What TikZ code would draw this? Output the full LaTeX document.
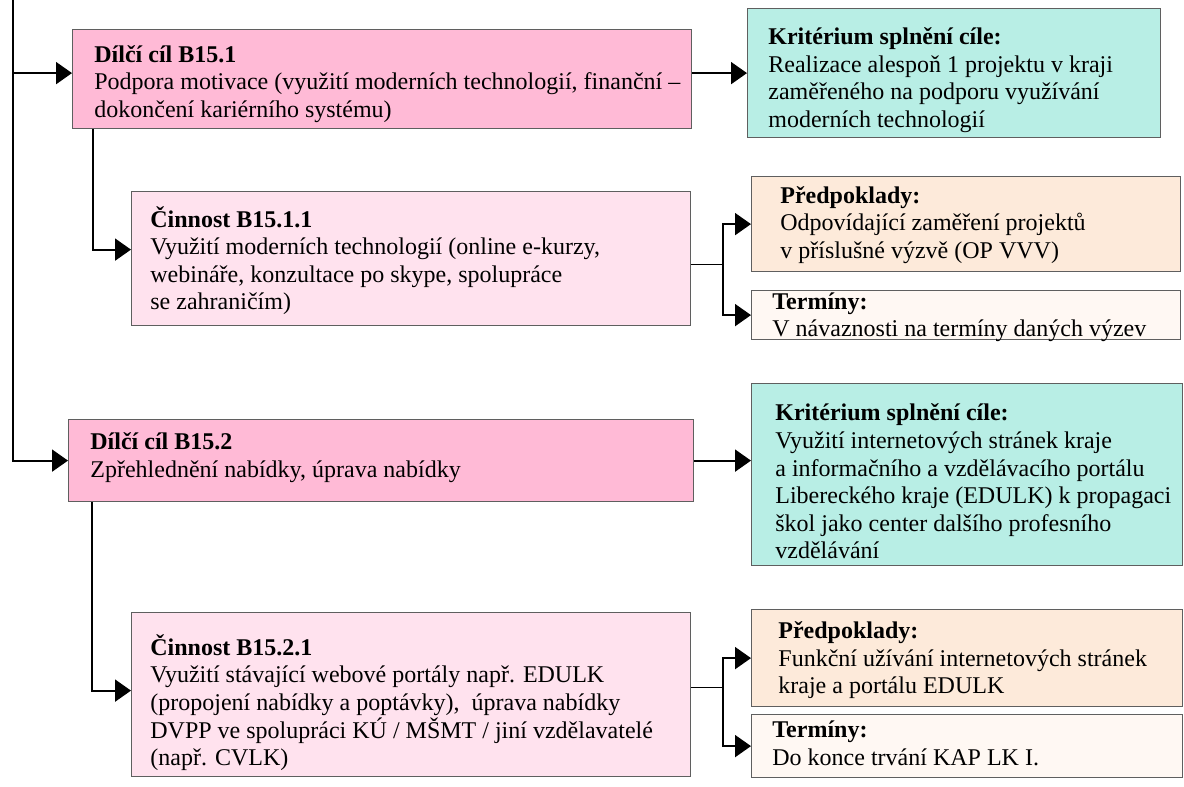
\documentclass[tikz,border=0pt]{standalone}
\usepackage{fontspec}
\setmainfont{Liberation Serif}
\usetikzlibrary{arrows.meta, positioning, calc}
\definecolor{goalc}{RGB}{255,186,214}
\definecolor{actc}{RGB}{255,226,238}
\definecolor{critc}{RGB}{184,238,229}
\definecolor{prec}{RGB}{253,234,218}
\definecolor{termc}{RGB}{255,248,243}
\definecolor{edgec}{RGB}{95,95,95}

\begin{document}
\begin{tikzpicture}[x=0.5pt, y=-0.5pt,
    box/.style={draw=edgec, line width=0.6pt, anchor=north west, inner sep=0pt},
    txt/.style={align=left, inner sep=0pt, font=\fontsize{12}{13.8}\selectfont},
    arr/.style={-{Triangle[length=8pt, width=11pt]}, line width=1pt}]
  \useasboundingbox (0,0) rectangle (1184,787);
  % goal B15.1
  \node[box, fill=goalc, minimum width=309.5pt, minimum height=49.5pt] (goal1) at (72,29) {};
  \node[txt, right=11pt of goal1.west, yshift=-2.5pt] (goal1t)
    {\textbf{Dílčí cíl B15.1}\\ Podpora motivace (využití moderních technologií, finanční –\\ dokončení kariérního systému)};
  \node[box, fill=critc, minimum width=206.5pt, minimum height=64.5pt] (crit1) at (747,8) {};
  \node[txt, right=10.5pt of crit1.west, yshift=-3.5pt] (crit1t)
    {\textbf{Kritérium splnění cíle:}\\ Realizace alespoň 1 projektu v kraji\\ zaměřeného na podporu využívání\\ moderních technologií};
  \node[box, fill=actc, minimum width=279.5pt, minimum height=67pt] (act1) at (131,191) {};
  \node[txt, right=9.5pt of act1.west, yshift=-1pt] (act1t)
    {\textbf{Činnost B15.1.1}\\ Využití moderních technologií (online e-kurzy,\\ webináře, konzultace po skype, spolupráce\\ se zahraničím)};
  \node[box, fill=prec, minimum width=214.5pt, minimum height=47.5pt] (pre1) at (751,176) {};
  \node[txt, right=14.5pt of pre1.west, yshift=-0.5pt] (pre1t)
    {\textbf{Předpoklady:}\\ Odpovídající zaměření projektů\\ v příslušné výzvě (OP VVV)};
  \node[box, fill=termc, minimum width=214.5pt, minimum height=24.5pt] (term1) at (751,290) {};
  \node[txt, right=10.5pt of term1.west, yshift=-1pt] (term1t)
    {\textbf{Termíny:}\\ V návaznosti na termíny daných výzev};
  % goal B15.2
  \node[box, fill=goalc, minimum width=312.5pt, minimum height=41pt] (goal2) at (68,419) {};
  \node[txt, right=11pt of goal2.west, yshift=1.5pt] (goal2t)
    {\textbf{Dílčí cíl B15.2}\\ Zpřehlednění nabídky, úprava nabídky};
  \node[box, fill=critc, minimum width=215.5pt, minimum height=91pt] (crit2) at (751,383) {};
  \node[txt, right=12pt of crit2.west, yshift=-3.5pt] (crit2t)
    {\textbf{Kritérium splnění cíle:}\\ Využití internetových stránek kraje\\ a informačního a vzdělávacího portálu\\ Libereckého kraje (EDULK) k propagaci\\ škol jako center dalšího profesního\\ vzdělávání};
  \node[box, fill=actc, minimum width=279.5pt, minimum height=82pt] (act2) at (131,612) {};
  \node[txt, right=9.5pt of act2.west, yshift=-4pt] (act2t)
    {\textbf{Činnost B15.2.1}\\ Využití stávající webové portály např. EDULK\\ (propojení nabídky a poptávky), \ úprava nabídky\\ DVPP ve spolupráci KÚ / MŠMT / jiní vzdělavatelé\\ (např. CVLK)};
  \node[box, fill=prec, minimum width=215.5pt, minimum height=48.5pt] (pre2) at (751,609) {};
  \node[txt, right=13.5pt of pre2.west, yshift=-1pt] (pre2t)
    {\textbf{Předpoklady:}\\ Funkční užívání internetových stránek\\ kraje a portálu EDULK};
  \node[box, fill=termc, minimum width=215.5pt, minimum height=31.5pt] (term2) at (751,714) {};
  \node[txt, right=10.5pt of term2.west, yshift=1.5pt] (term2t)
    {\textbf{Termíny:}\\ Do konce trvání KAP LK I.};
  % connectors
  \coordinate (top) at (13,0);
  \draw[arr] (top) |- (goal2.west);
  \draw[arr] (top |- crit1.west) -- (goal1.west |- crit1.west);
  \draw[arr] (goal1.east |- crit1.west) -- (crit1.west);
  \draw[arr] (goal2.east) -- (goal2.east -| crit2.west);
  \draw[arr] ([xshift=10.5pt]goal1.south west) |- ([yshift=4.5pt]act1.west);
  \draw[arr] ([xshift=12pt]goal2.south west) |- ([yshift=2pt]act2.west);
  \draw ([yshift=-3pt]act1.east) -- ++(16pt,0) coordinate (b1);
  \draw[arr] (b1) |- (pre1.west);
  \draw[arr] (b1) |- (term1.west);
  \draw ([yshift=3.5pt]act2.east) -- ++(16pt,0) coordinate (b2);
  \draw[arr] (b2) |- (pre2.west);
  \draw[arr] (b2) |- (term2.west);
\end{tikzpicture}
\end{document}
